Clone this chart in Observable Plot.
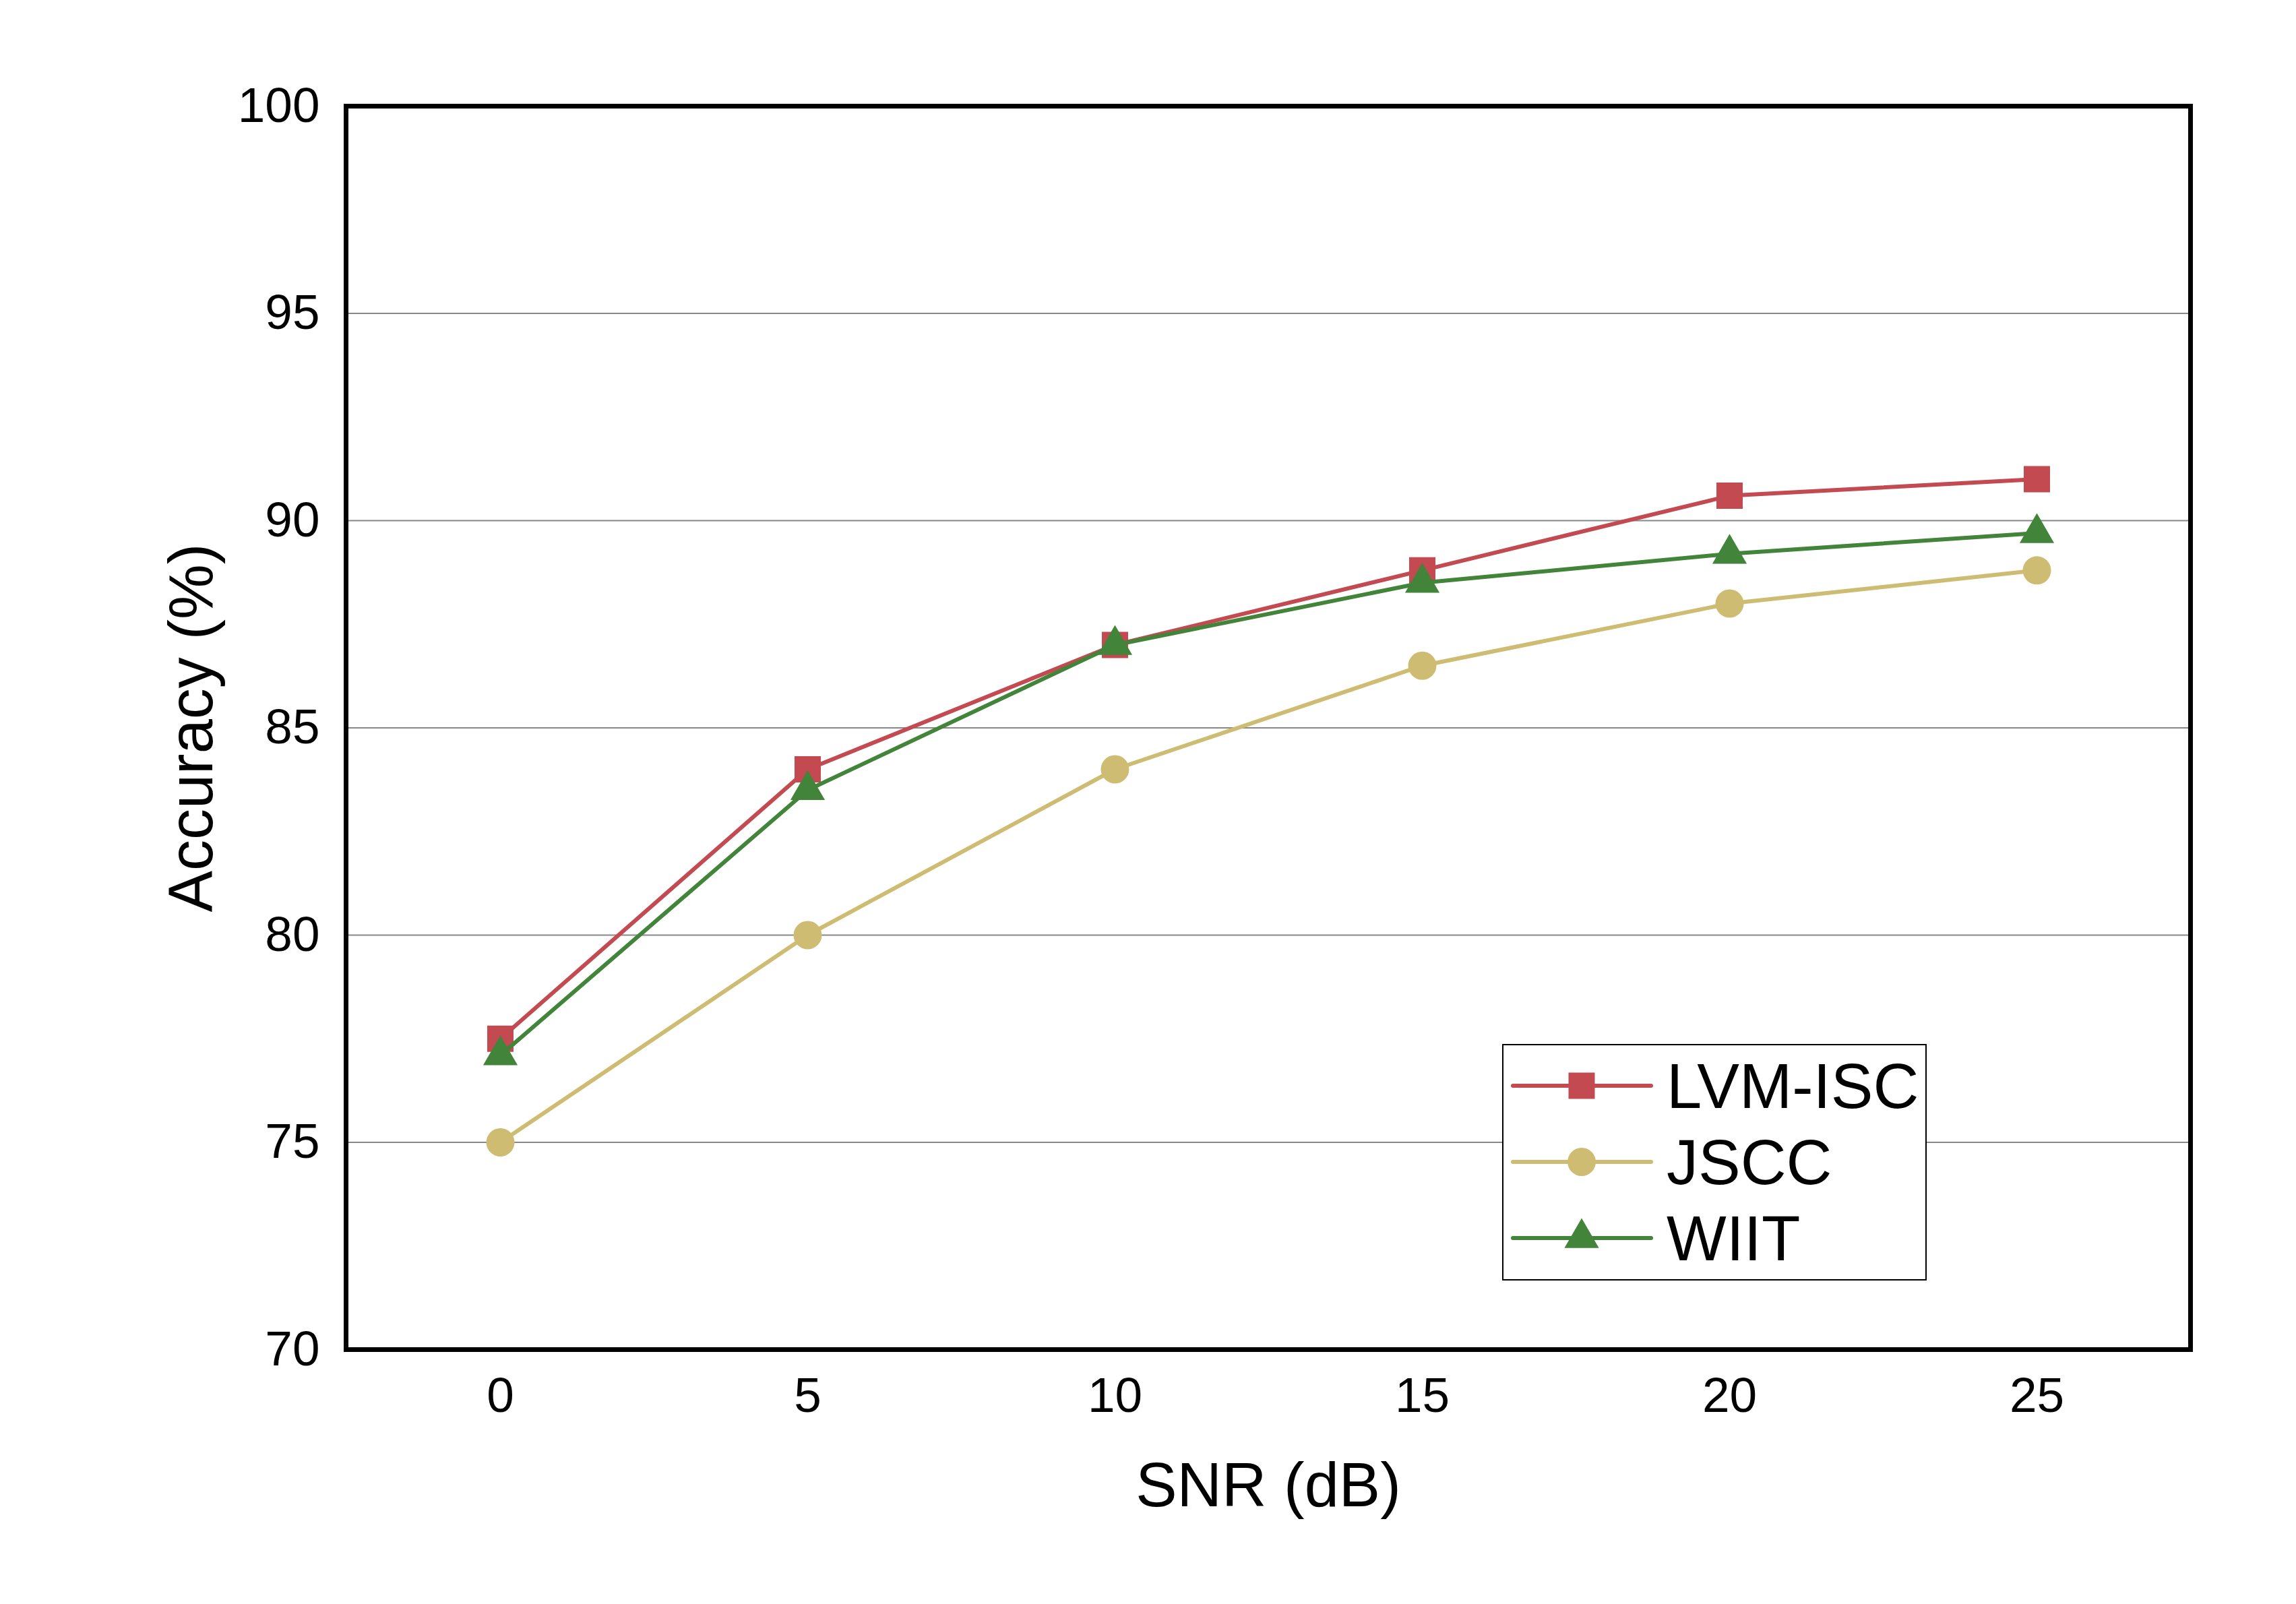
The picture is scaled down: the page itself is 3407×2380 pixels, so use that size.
<!DOCTYPE html>
<html>
<head>
<meta charset="utf-8">
<script src="https://cdn.jsdelivr.net/npm/d3@7"></script>
<script src="https://cdn.jsdelivr.net/npm/@observablehq/plot@0.6"></script>
<style>
  html, body { margin: 0; padding: 0; background: #fff; }
  #wrap { position: relative; width: 3407px; height: 2380px; font-family: "Liberation Sans", Arial, sans-serif; }
  #legend { position: absolute; left: 2229px; top: 1549px; width: 630px; height: 351px;
            box-sizing: border-box; border: 2.5px solid #000; background: #fff; }
  #legend svg { position: absolute; left: -2.5px; top: -2.5px; overflow: visible; }
</style>
</head>
<body>
<div id="wrap"></div>
<script>
// ---- data ----
const snr = [0, 5, 10, 15, 20, 25];
const seriesNames = ["LVM-ISC", "JSCC", "WIIT"];
const lvmIsc = [77.5, 84.0, 87.0, 88.8, 90.6, 91.0];
const jscc   = [75.0, 80.0, 84.0, 86.5, 88.0, 88.8];
const wiit   = [77.1, 83.5, 87.0, 88.5, 89.2, 89.7];
const yTicks = [70, 75, 80, 85, 90, 95, 100];
const xLabel = "SNR (dB)";
const yLabel = "Accuracy (%)";

// ---- styles ----
const colors = ["#C34A51", "#CFBC73", "#42843A"];
const symbols = ["square", "circle", "triangle"];
const radii = [22, 21, 19];
const font = "'Liberation Sans', Arial, sans-serif";

const values = [lvmIsc, jscc, wiit];
const rows = seriesNames.flatMap((name, i) =>
  snr.map((x, j) => ({ series: name, snr: x, acc: values[i][j] })));

const seriesMarks = seriesNames.flatMap((name, i) => {
  const d = rows.filter(r => r.series === name);
  return [
    Plot.line(d, { x: "snr", y: "acc", stroke: colors[i], strokeWidth: 6 }),
    Plot.dot(d, { x: "snr", y: "acc", symbol: () => symbols[i], r: radii[i], fill: colors[i], stroke: "none" })
  ];
});

const chart = Plot.plot({
  width: 3407,
  height: 2380,
  marginLeft: 513,
  marginRight: 157,
  marginTop: 157,
  marginBottom: 378,
  style: { fontFamily: font, background: "#fff", color: "#000", overflow: "visible" },
  x: { type: "point", domain: snr, padding: 0.5 },
  y: { domain: [70, 100] },
  symbol: { type: "identity" },
  marks: [
    Plot.gridY(yTicks.slice(1, -1), { stroke: "#888", strokeOpacity: 1, strokeWidth: 2 }),
    Plot.axisY({ ticks: yTicks, tickSize: 0, tickPadding: 39, fontSize: 73, label: null }),
    Plot.axisX({ ticks: snr, tickSize: 0, tickPadding: 41, fontSize: 73, label: null }),
    Plot.text([xLabel], { text: d => d, frameAnchor: "bottom", lineAnchor: "middle", textAnchor: "middle", dy: 203, fontSize: 92, fill: "#000" }),
    Plot.text([yLabel], { text: d => d, frameAnchor: "left", lineAnchor: "middle", textAnchor: "middle", rotate: -90, dx: -228, fontSize: 92, fill: "#000" }),
    ...seriesMarks,
    Plot.frame({ stroke: "#000", strokeWidth: 7 })
  ]
});

const wrap = document.getElementById("wrap");
wrap.appendChild(chart);

// ---- legend ----
const legend = document.createElement("div");
legend.id = "legend";
wrap.appendChild(legend);
const lsvg = d3.select(legend).append("svg").attr("width", 630).attr("height", 351);
const symMap = { square: d3.symbolSquare, circle: d3.symbolCircle, triangle: d3.symbolTriangle };
seriesNames.forEach((name, i) => {
  const cy = 62 + i * 113;
  const g = lsvg.append("g");
  g.append("line").attr("x1", 16).attr("x2", 221).attr("y1", cy).attr("y2", cy)
    .attr("stroke", colors[i]).attr("stroke-width", 6).attr("stroke-linecap", "round");
  g.append("path").attr("d", d3.symbol(symMap[symbols[i]], Math.PI * radii[i] * radii[i])())
    .attr("transform", `translate(118,${cy})`).attr("fill", colors[i]);
  g.append("text").attr("x", 244).attr("y", cy + 33).attr("font-size", 94)
    .attr("font-family", font).attr("fill", "#000").text(name);
});
</script>
</body>
</html>
